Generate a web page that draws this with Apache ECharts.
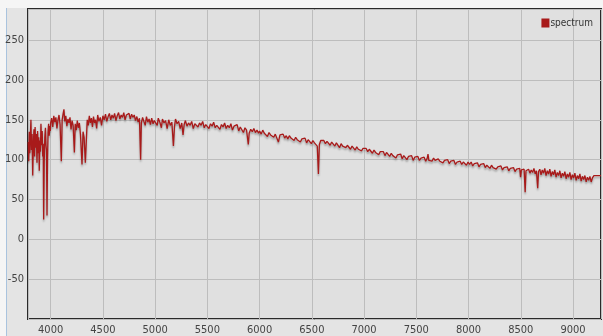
<!DOCTYPE html>
<html><head><meta charset="utf-8">
<script src="https://cdn.jsdelivr.net/npm/echarts@6/dist/echarts.min.js"></script>
<style>html,body{margin:0;padding:0;background:#f5f5f5;}#c{width:603px;height:336px;}</style>
</head><body><div id="c"></div>
<script>
// spectrum samples: [wavelength, flux]
const segCaHK = [[3785,122],[3790,98],[3795,135],[3800,108],[3805,128],[3811,150],[3816,112],[3822,132],[3828,80],[3834,118],[3840,138],[3846,104],[3851,141],[3857,115],[3863,132],[3869,96],[3875,136],[3881,108],[3886,128],[3891,86],[3897,124],[3902,110],[3907,145],[3913,118],[3919,136],[3924,104],[3929,120],[3933,25],[3938,96],[3944,128],[3950,140],[3955,118],[3960,112],[3965,30],[3970,102],[3975,134],[3980,145],[3986,130],[3992,142],[3997,136]];
const segBlue = [[4000,146],[4010,152],[4020,141],[4030,155],[4040,147],[4050,153],[4060,139],[4070,150],[4080,156],[4090,144],[4102,98],[4110,150],[4120,158],[4127,163],[4135,148],[4145,155],[4155,142],[4165,151],[4175,146],[4185,153],[4195,138],[4205,149],[4215,143],[4227,109],[4235,145],[4245,137],[4255,149],[4265,140],[4275,146],[4285,132],[4300,94],[4310,135],[4320,128],[4332,96],[4340,120],[4350,150],[4360,143],[4370,155],[4380,146],[4390,152],[4400,141]];
const segPeak = [[4410,154],[4420,146],[4430,150],[4440,139],[4450,156],[4462,148],[4475,153],[4487,143],[4500,155],[4512,150],[4525,157],[4537,148],[4550,154],[4562,158],[4575,150],[4587,156],[4600,152],[4612,158],[4625,149],[4637,155],[4650,159],[4662,151],[4675,156],[4687,153],[4700,159],[4712,150],[4725,156],[4737,154],[4750,158],[4762,151],[4775,157],[4787,153],[4800,156],[4812,149],[4825,154],[4837,147],[4850,152],[4861,100],[4868,146],[4880,153],[4892,148],[4905,143],[4917,154],[4930,147],[4942,151],[4955,144],[4967,152],[4980,145],[4992,149],[5000,151]];
const segGreen = [[5010,148],[5020,143],[5030,152],[5045,147],[5060,140],[5070,151],[5085,146],[5100,149],[5115,139],[5130,150],[5145,143],[5160,147],[5175,117],[5185,141],[5195,151],[5210,145],[5225,148],[5240,139],[5255,146],[5267,131],[5278,144],[5290,149],[5305,142],[5320,146],[5335,143],[5350,148],[5365,139],[5380,145],[5395,147],[5410,141],[5425,146],[5440,143],[5455,148],[5470,140],[5485,144],[5500,146],[5515,139],[5530,145],[5545,142],[5560,147],[5575,140],[5590,143],[5605,145],[5620,138],[5635,144],[5650,141],[5665,146],[5680,139],[5695,143],[5710,140],[5725,145],[5740,137],[5755,142],[5770,140],[5785,144],[5800,136],[5815,141],[5830,139],[5845,134],[5860,140],[5875,137],[5892,119],[5900,133],[5915,138],[5930,135],[5945,139],[5960,134],[5975,137],[5990,133],[6000,136]];
const segRed = [[6015,132],[6030,137],[6045,133],[6060,135],[6075,129],[6090,134],[6105,131],[6120,133],[6135,128],[6150,132],[6165,130],[6180,122],[6195,131],[6210,129],[6225,132],[6240,127],[6255,130],[6270,126],[6285,130],[6300,127],[6315,129],[6330,124],[6345,128],[6360,125],[6375,127],[6390,122],[6405,126],[6420,124],[6435,127],[6450,121],[6465,125],[6480,123],[6495,120],[6510,124],[6525,121],[6540,122],[6552,117],[6563,82],[6572,119],[6585,124],[6600,122],[6615,124],[6630,120],[6645,123],[6660,121],[6675,118],[6690,122],[6705,120],[6720,117],[6735,121],[6750,119],[6765,115],[6780,120],[6795,117],[6810,119],[6825,115],[6840,118],[6855,116],[6870,113],[6885,117],[6900,115],[6915,112],[6930,116],[6945,113],[6960,115],[6975,111],[6990,114]];
const segFarRed = [[7005,112],[7020,114],[7035,110],[7050,113],[7065,111],[7080,108],[7095,112],[7110,109],[7125,111],[7140,106],[7155,110],[7170,108],[7185,110],[7200,105],[7215,109],[7230,107],[7245,104],[7260,108],[7275,105],[7290,107],[7305,102],[7320,106],[7335,104],[7350,107],[7365,101],[7380,105],[7395,103],[7410,100],[7425,104],[7440,102],[7455,105],[7470,99],[7485,103],[7500,101],[7515,104],[7530,99],[7545,102],[7560,100],[7575,103],[7590,98],[7605,102],[7612,107],[7620,99],[7635,101],[7650,98],[7665,102],[7680,99],[7695,97],[7710,101],[7725,98],[7740,100],[7755,96],[7770,99],[7785,97],[7800,100],[7815,95],[7830,98],[7845,96],[7860,99],[7875,94],[7890,97],[7905,95],[7920,98],[7935,94],[7950,97],[7965,95],[7980,93],[7995,97]];
const segNIR = [[8010,94],[8025,97],[8040,92],[8055,95],[8070,93],[8085,96],[8100,91],[8115,94],[8130,92],[8145,95],[8160,90],[8175,93],[8190,91],[8205,89],[8220,93],[8235,90],[8250,92],[8265,88],[8280,91],[8295,89],[8310,92],[8325,87],[8340,90],[8355,88],[8370,91],[8385,86],[8400,89],[8415,87],[8430,90],[8445,85],[8460,88],[8475,86],[8490,89],[8498,78],[8506,87],[8520,85],[8532,88],[8542,59],[8550,86],[8562,84],[8575,88],[8588,83],[8600,87],[8614,84],[8626,89],[8638,82],[8650,86],[8662,64],[8670,85],[8682,88],[8694,81],[8706,87],[8718,83],[8730,89],[8742,80],[8754,86],[8766,82],[8778,88],[8790,79],[8802,85],[8814,81],[8826,87],[8838,78],[8850,84],[8862,80],[8874,86],[8886,77],[8898,83],[8910,79],[8922,85],[8934,76],[8946,82],[8958,78],[8970,84],[8982,75],[8994,81],[9006,77],[9018,83],[9030,74],[9042,80],[9054,76],[9066,82],[9078,73],[9090,79],[9102,75],[9114,80],[9126,72],[9138,78],[9150,74],[9162,79],[9174,72],[9186,77],[9195,75],[9200,80],[9268,80]];
const seriesName = 'spectrum';

const spectrum = [].concat(segCaHK, segBlue, segPeak, segGreen, segRed, segFarRed, segNIR);
const FONT = '"Liberation Sans Narrow","DejaVu Sans Condensed","Liberation Sans",Arial,sans-serif';

const chart = echarts.init(document.getElementById('c'), null, {renderer:'canvas'});
chart.setOption({
  animation: false,
  backgroundColor: '#f5f5f5',
  graphic: [
    {type:'rect', z:-10, silent:true, shape:{x:7,y:8,width:596,height:328}, style:{fill:'#e4e4e4'}},
    {type:'line', z:-9, silent:true, shape:{x1:6.5,y1:8,x2:6.5,y2:336}, style:{stroke:'#a9c3de',lineWidth:1}}
  ],
  grid: {left:28, right:2, top:9, bottom:17, show:true, backgroundColor:'#e0e0e0', borderColor:'#2a2a2a', borderWidth:2, containLabel:false},
  legend: {right:5, top:13, selectedMode:false, icon:'rect', itemWidth:8, itemHeight:9, itemGap:4,
    textStyle:{fontFamily:FONT, fontSize:10, color:'#333', padding:[0,0,0,-4]}, data:[seriesName]},
  xAxis: {type:'value', min:3783, max:9268, splitNumber:10,
    axisLine:{show:false}, axisTick:{show:false},
    axisLabel:{showMinLabel:false, showMaxLabel:false, fontFamily:FONT, fontSize:11, color:'#444', margin:6,
      formatter: v => String(v)},
    splitLine:{show:true, lineStyle:{color:'#bdbdbd', width:1}}},
  yAxis: {type:'value', min:-100, max:289, interval:50,
    axisLine:{show:false}, axisTick:{show:false},
    axisLabel:{showMinLabel:false, showMaxLabel:false, fontFamily:FONT, fontSize:11, color:'#444', margin:4},
    splitLine:{show:true, lineStyle:{color:'#bdbdbd', width:1}}},
  series: [{name:seriesName, type:'line', data:spectrum, showSymbol:false, symbol:'none', sampling:null,
    itemStyle:{color:'#a81a1a'},
    lineStyle:{color:'#a81a1a', width:1.3, shadowColor:'rgba(0,0,0,0.3)', shadowBlur:2, shadowOffsetY:2}}]
});
</script></body></html>
